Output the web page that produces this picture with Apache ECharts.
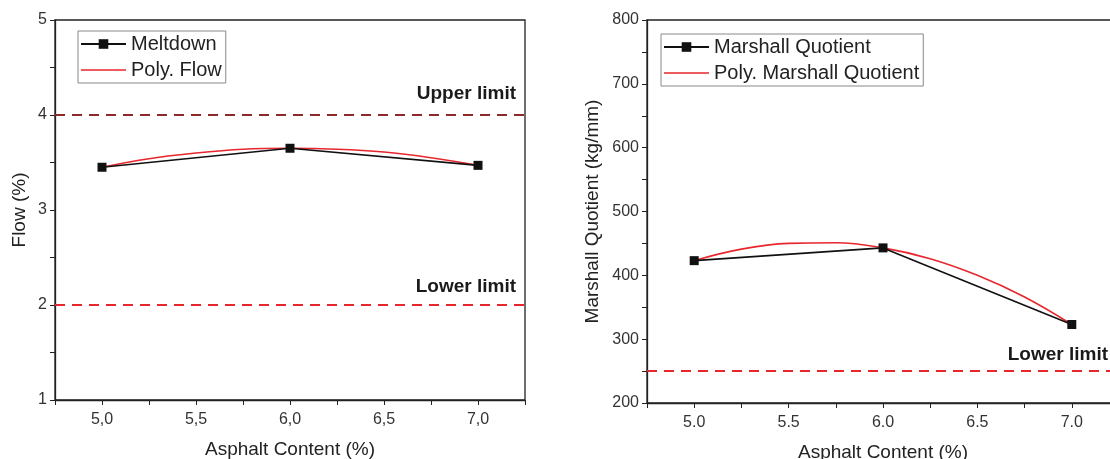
<!DOCTYPE html>
<html>
<head>
<meta charset="utf-8">
<script src="https://cdn.jsdelivr.net/npm/echarts@6/dist/echarts.min.js"></script>
<style>
  html, body { margin: 0; padding: 0; background: #fff; }
  #chart { width: 1110px; height: 459px; }
</style>
</head>
<body>
<div id="chart"></div>
<script>
// asphalt content (%)
var asphalt = [5.0, 6.0, 7.0];
// left: flow / meltdown (%)
var meltdown = [3.45, 3.65, 3.47];
var polyX = [5.0, 5.25, 5.5, 5.75, 6.0, 6.25, 6.5, 6.75, 7.0];
var polyFlow = [3.45, 3.54, 3.60, 3.64, 3.65, 3.64, 3.61, 3.55, 3.47];
var flowLimits = [4, 2];
// right: marshall quotient (kg/mm)
var marshall = [423, 443, 323];
var polyMarshall = [423, 441, 450, 451, 443, 426, 400, 366, 323];
var mqLimits = [250];

var FONT = 'Arial, "Liberation Sans", sans-serif';
var LINE_ICON = 'path://M0,0 L45,0 L45,1.6 L0,1.6 Z';

function pairs(xs, ys) {
  return xs.map(function (x, i) { return [x, ys[i]]; });
}

function xAxisOf(grid, comma) {
  return {
    type: 'value', gridIndex: grid, min: 4.75, max: 7.25, interval: 0.25,
    name: 'Asphalt Content (%)', nameLocation: 'middle', nameGap: 40,
    nameTextStyle: { fontSize: 19, color: '#222', fontFamily: FONT },
    axisLine: { lineStyle: { color: '#222', width: 1.3 } },
    axisTick: { inside: false, length: 5, lineStyle: { color: '#222' } },
    splitLine: { show: false },
    axisLabel: {
      fontSize: 16, color: '#333', fontFamily: FONT, margin: 12,
      formatter: function (v) {
        if (Math.abs(v * 2 - Math.round(v * 2)) > 1e-6) return '';
        var s = v.toFixed(1);
        return comma ? s.replace('.', ',') : s;
      }
    }
  };
}

function yAxisOf(grid, min, max, step, labelStep, name, gap) {
  return {
    type: 'value', gridIndex: grid, min: min, max: max, interval: step,
    name: name, nameLocation: 'middle', nameGap: gap,
    nameTextStyle: { fontSize: 19, color: '#222', fontFamily: FONT },
    axisLine: { show: true, lineStyle: { color: '#222', width: 1.3 } },
    axisTick: { show: true, length: 5, lineStyle: { color: '#222' } },
    splitLine: { show: false },
    axisLabel: {
      fontSize: 16, color: '#333', fontFamily: FONT, margin: 8,
      formatter: function (v) {
        return Math.abs(v / labelStep - Math.round(v / labelStep)) < 1e-6 ? String(v) : '';
      }
    }
  };
}

function limitLine(value, text, color, dist) {
  return {
    yAxis: value,
    lineStyle: { color: color, type: [10, 7], width: 2 },
    label: {
      show: true, position: 'insideEndTop', formatter: text, distance: dist,
      fontSize: 19, fontWeight: 'bold', color: '#1a1a1a', fontFamily: FONT
    }
  };
}

function legendOf(names, left, top) {
  return {
    data: [names[0], { name: names[1], icon: LINE_ICON }],
    orient: 'vertical', left: left, top: top,
    itemWidth: 45, itemHeight: 12, itemGap: 6,
    padding: [3, 4, 3, 2],
    borderColor: '#888', borderWidth: 1,
    textStyle: { fontSize: 20, color: '#222', fontFamily: FONT, padding: [0, 0, 0, 0] }
  };
}

var chart = echarts.init(document.getElementById('chart'));
chart.setOption({
  animation: false,
  backgroundColor: '#fff',
  grid: [
    { left: 55, top: 20, width: 470, height: 380, containLabel: false, outerBoundsMode: 'none',
      show: true, borderColor: '#222', borderWidth: 1.3 },
    { left: 647, top: 20, width: 472, height: 383, containLabel: false, outerBoundsMode: 'none',
      show: true, borderColor: '#222', borderWidth: 1.3 }
  ],
  xAxis: [xAxisOf(0, true), xAxisOf(1, false)],
  yAxis: [
    yAxisOf(0, 1, 5, 0.5, 1, 'Flow (%)', 26),
    yAxisOf(1, 200, 800, 50, 100, 'Marshall Quotient (kg/mm)', 45)
  ],
  legend: [
    legendOf(['Meltdown', 'Poly. Flow'], 78, 31),
    legendOf(['Marshall Quotient', 'Poly. Marshall Quotient'], 661, 34)
  ],
  series: [
    {
      name: 'Poly. Flow', type: 'line', xAxisIndex: 0, yAxisIndex: 0,
      data: pairs(polyX, polyFlow), smooth: 0.4, showSymbol: false, symbol: 'none',
      lineStyle: { color: '#e8262e', width: 1.6 }, itemStyle: { color: '#e8262e' }, z: 3
    },
    {
      name: 'Meltdown', type: 'line', xAxisIndex: 0, yAxisIndex: 0,
      data: pairs(asphalt, meltdown), symbol: 'rect', symbolSize: 9,
      lineStyle: { color: '#111', width: 1.6 }, itemStyle: { color: '#111' }, z: 4,
      markLine: {
        symbol: 'none', silent: true,
        data: [
          limitLine(flowLimits[0], 'Upper limit', '#8b2a2a', [9, 12]),
          limitLine(flowLimits[1], 'Lower limit', '#e8262e', [9, 9])
        ]
      }
    },
    {
      name: 'Poly. Marshall Quotient', type: 'line', xAxisIndex: 1, yAxisIndex: 1,
      data: pairs(polyX, polyMarshall), smooth: 0.4, showSymbol: false, symbol: 'none',
      lineStyle: { color: '#e8262e', width: 1.6 }, itemStyle: { color: '#e8262e' }, z: 3
    },
    {
      name: 'Marshall Quotient', type: 'line', xAxisIndex: 1, yAxisIndex: 1,
      data: pairs(asphalt, marshall), symbol: 'rect', symbolSize: 9,
      lineStyle: { color: '#111', width: 1.6 }, itemStyle: { color: '#111' }, z: 4,
      markLine: {
        symbol: 'none', silent: true,
        data: [limitLine(mqLimits[0], 'Lower limit', '#e8262e', [11, 7])]
      }
    }
  ]
});
</script>
</body>
</html>
